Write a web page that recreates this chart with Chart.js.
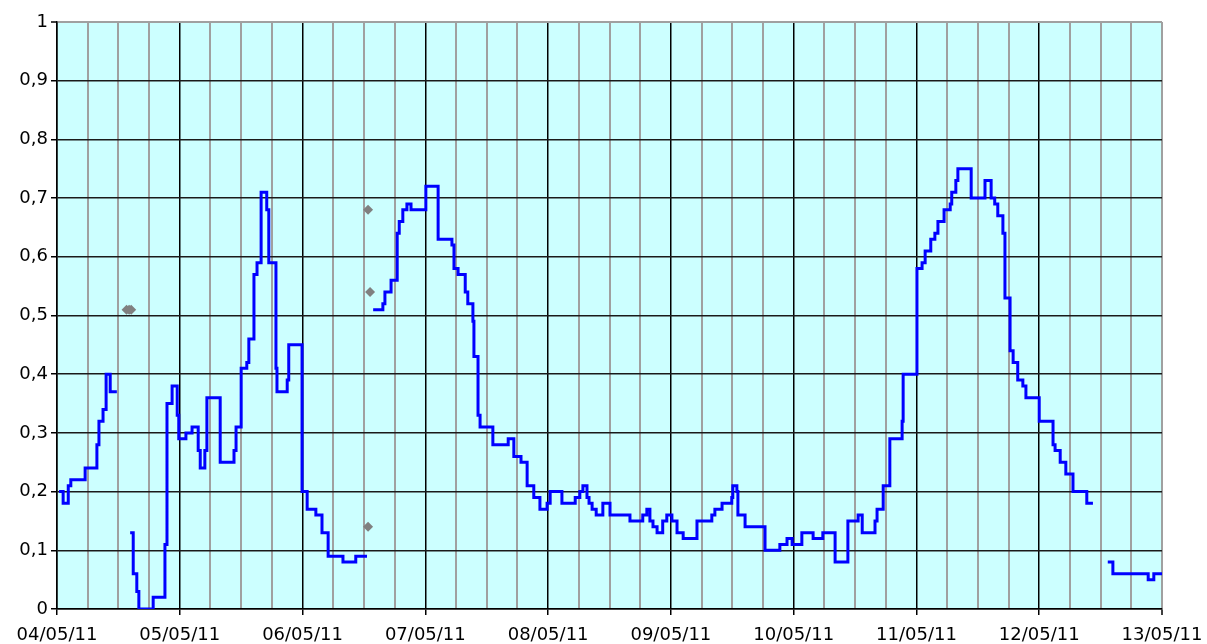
<!DOCTYPE html>
<html>
<head>
<meta charset="utf-8">
<script src="https://cdn.jsdelivr.net/npm/chart.js@4/dist/chart.umd.min.js"></script>
<style>
  html, body { margin: 0; padding: 0; background: #ffffff; }
  #wrap { width: 1207px; height: 644px; position: relative; }
</style>
</head>
<body>
<div id="wrap"><canvas id="c"></canvas></div>
<script>
// ---- data (hours since 04/05/11 00:00) ----
const dayLabels = ['04/05/11','05/05/11','06/05/11','07/05/11','08/05/11','09/05/11','10/05/11','11/05/11','12/05/11','13/05/11'];
const yTickLabels = ['0','0,1','0,2','0,3','0,4','0,5','0,6','0,7','0,8','0,9','1'];

const seriesHours = [
  0.4,1.2,2.2,2.7,5.5,7.8,8.2,9.0,9.6,10.4,11.7,
  13.0,
  14.3,14.9,15.6,16.0,18.8,21.1,21.5,22.5,23.5,23.8,25.2,26.4,27.6,28.0,28.9,29.3,31.9,
  34.6,35.0,36.0,37.1,37.5,38.5,39.1,39.9,41.0,41.4,42.8,43.0,45.0,45.3,47.9,48.9,50.6,
  51.8,53.0,55.9,58.4,60.6,
  61.2,
  61.8,63.7,64.1,65.3,66.5,66.9,67.6,68.4,69.2,72.1,74.5,77.2,77.6,78.4,79.8,80.3,81.3,
  81.5,82.3,82.7,85.2,88.2,89.3,90.7,91.9,93.2,94.4,95.8,96.4,98.7,101.3,102.2,102.8,
  103.6,104.0,104.6,105.4,106.7,108.1,112.0,114.5,115.3,115.9,116.5,117.3,118.4,119.2,
  120.2,121.2,122.4,125.1,128.0,128.6,130.0,131.9,132.1,132.9,133.1,134.5,138.4,141.3,
  142.7,143.7,145.6,147.8,149.7,152.1,154.6,156.6,157.4,159.9,160.3,161.5,162.8,165.2,
  165.4,168.1,169.1,169.7,170.8,171.6,172.2,173.4,174.6,174.9,175.7,176.1,178.7,181.4,
  182.6,183.3,183.9,184.9,185.3,186.3,186.9,187.8,188.8,189.4,192.0,194.7,195.1,196.1,
  197.2,198.6,201.3,202.5,
  204.0,
  205.4,206.4,213.3,214.4,216.0
];
const seriesValues = [
  0.20,0.18,0.21,0.22,0.24,0.28,0.32,0.34,0.40,0.37,0.37,
  null,
  0.13,0.06,0.03,0.00,0.02,0.11,0.35,0.38,0.33,0.29,0.30,0.31,0.27,0.24,0.27,0.36,0.25,
  0.27,0.31,0.41,0.42,0.46,0.57,0.59,0.71,0.68,0.59,0.41,0.37,0.39,0.45,0.20,0.17,0.16,
  0.13,0.09,0.08,0.09,0.09,
  null,
  0.51,0.52,0.54,0.56,0.64,0.66,0.68,0.69,0.68,0.72,0.63,0.62,0.58,0.57,0.54,0.52,0.49,
  0.43,0.33,0.31,0.28,0.29,0.26,0.25,0.21,0.19,0.17,0.18,0.20,0.18,0.19,0.20,0.21,
  0.19,0.18,0.17,0.16,0.18,0.16,0.15,0.16,0.17,0.15,0.14,0.13,0.15,0.16,
  0.15,0.13,0.12,0.15,0.16,0.17,0.18,0.19,0.21,0.20,0.16,0.14,0.10,0.11,
  0.12,0.11,0.13,0.12,0.13,0.08,0.15,0.16,0.13,0.15,0.17,0.21,0.29,0.32,
  0.40,0.58,0.59,0.61,0.63,0.64,0.66,0.68,0.69,0.71,0.73,0.75,0.70,0.73,
  0.70,0.69,0.67,0.64,0.53,0.44,0.42,0.39,0.38,0.36,0.32,0.28,0.27,0.25,
  0.23,0.20,0.18,0.18,
  null,
  0.08,0.06,0.05,0.06,0.06
];

const markerHours  = [13.6, 14.1, 14.5, 60.8, 61.2, 60.8];
const markerValues = [0.51, 0.51, 0.51, 0.68, 0.54, 0.14];

// ---- build chart ----
const lineData = seriesHours.map((h, i) => ({ x: h, y: seriesValues[i] }));
const markerData = markerHours.map((h, i) => ({ x: h, y: markerValues[i] }));

const plotBg = {
  id: 'plotBg',
  beforeDraw(chart) {
    const a = chart.chartArea, ctx = chart.ctx;
    ctx.save();
    ctx.fillStyle = '#ccffff';
    ctx.fillRect(a.left, a.top, a.right - a.left, a.bottom - a.top);
    ctx.restore();
  }
};

Chart.defaults.font.family = "'DejaVu Sans', Verdana, sans-serif";
Chart.defaults.font.size = 18;
Chart.defaults.color = '#000000';

const X_MAX = 216;

new Chart(document.getElementById('c'), {
  type: 'line',
  data: {
    datasets: [
      {
        data: lineData,
        borderColor: '#0000ff',
        borderWidth: 3,
        pointRadius: 0,
        stepped: 'before',
        spanGaps: false,
        fill: false,
        borderJoinStyle: 'miter',
        borderCapStyle: 'butt',
        order: 2
      },
      {
        data: markerData,
        showLine: false,
        pointStyle: 'rectRot',
        pointRadius: 5,
        pointBackgroundColor: '#808080',
        pointBorderWidth: 0,
        pointBorderColor: '#808080',
        order: 1
      }
    ]
  },
  options: {
    responsive: true,
    maintainAspectRatio: false,
    animation: false,
    events: [],
    layout: { padding: { top: 22, right: 45, left: 0, bottom: 0 } },
    plugins: { legend: { display: false }, tooltip: { enabled: false }, title: { display: false } },
    scales: {
      x: {
        type: 'linear',
        min: 0,
        max: X_MAX,
        afterFit(scale) { scale.height = 35; },
        ticks: {
          stepSize: 6,
          autoSkip: false,
          maxRotation: 0,
          minRotation: 0,
          padding: 3,
          font: { size: 18, lineHeight: 1.9 },
          color: '#000000',
          callback(v) { return (v % 24 === 0) ? dayLabels[v / 24] : ''; }
        },
        grid: {
          color(ctx) {
            const v = ctx.tick ? ctx.tick.value : 0;
            if (v === X_MAX) return '#a0a0a0';
            return (v % 24 === 0) ? '#000000' : '#a0a0a0';
          },
          lineWidth(ctx) {
            const v = ctx.tick ? ctx.tick.value : 0;
            return (v % 24 === 0 && v !== X_MAX) ? 1.5 : 2;
          },
          tickColor(ctx) {
            const v = ctx.tick ? ctx.tick.value : 0;
            return (v % 24 === 0) ? '#000000' : 'rgba(0,0,0,0)';
          },
          tickWidth: 1.5,
          tickLength: 6,
          drawTicks: true
        },
        border: { display: true, color: '#000000', width: 1.5 }
      },
      y: {
        type: 'linear',
        min: 0,
        max: 1,
        afterFit(scale) { scale.width = 57; },
        ticks: {
          stepSize: 0.1,
          padding: 3,
          color: '#000000',
          callback(v) { return yTickLabels[Math.round(v * 10)]; }
        },
        grid: {
          color(ctx) {
            const v = ctx.tick ? ctx.tick.value : 0;
            return (Math.abs(v - 1) < 1e-9) ? '#a0a0a0' : '#1a1a1a';
          },
          lineWidth(ctx) {
            const v = ctx.tick ? ctx.tick.value : 0;
            return (Math.abs(v - 1) < 1e-9) ? 2 : 1.5;
          },
          tickColor: '#000000',
          tickWidth: 1.5,
          tickLength: 6
        },
        border: { display: true, color: '#000000', width: 1.5 }
      }
    }
  },
  plugins: [plotBg]
});
</script>
</body>
</html>
